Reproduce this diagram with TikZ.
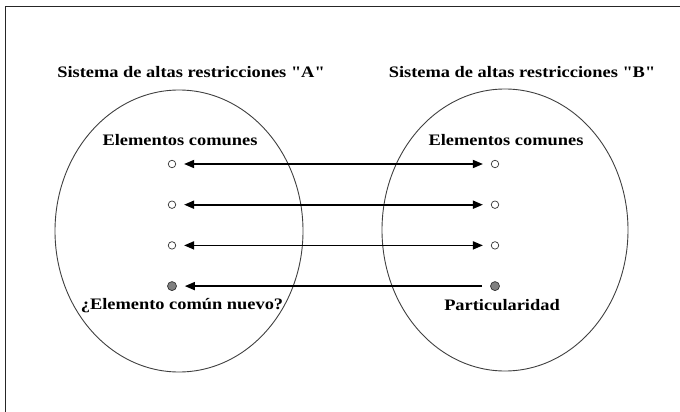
\documentclass[tikz,border=0pt]{standalone}
\usepackage{fontspec}
\setmainfont{Liberation Serif}[FakeStretch=1.15, Ligatures=TeXOff]
\usetikzlibrary{arrows.meta,positioning,shapes.geometric}

\begin{document}
\begin{tikzpicture}[x=1pt, y=-1pt, node distance = 40.7pt, on
grid, >={Triangle[length=10pt,width=8pt]},
sistema/.style={draw=black!75, line width=0.9pt, ellipse, minimum width=248pt, minimum height=282pt},
dot/.style={circle, draw=black!80, line width=0.7pt, fill=white, inner sep=0pt, minimum size=7.5pt},
newdot/.style={dot, fill=black!50, minimum size=9pt},
txt/.style={font=\bfseries\fontsize{16}{18}\selectfont, inner sep=0pt},
link/.style={line width=1.7pt, shorten >=8pt, shorten <=8pt}]
\useasboundingbox (0,0) rectangle (680,412);
\draw [line width=1pt, black!85] (5,412) -- (5,7) -- (680,7);
\node [sistema] (s_A) at (179,231) {};
\node [sistema, minimum width=246pt] (s_B) at (505,230) {};
\node [txt] (t_A) at (191,72) {Sistema de altas restricciones "A"};
\node [txt] (t_B) at (522,72) {Sistema de altas restricciones "B"};
\node [txt] (e_A) at (180,140) {Elementos comunes};
\node [txt] (e_B) at (506,140) {Elementos comunes};
\node [dot] (a_1) at (172,164) {};
\node [dot] (a_2) [below = of a_1] {};
\node [dot] (a_3) [below = of a_2] {};
\node [newdot] (a_4) [below = of a_3] {};
\node [dot] (b_1) [right = 323pt of a_1] {};
\node [dot] (b_2) [below = of b_1] {};
\node [dot] (b_3) [below = of b_2] {};
\node [newdot] (b_4) [below = of b_3] {};
\node [txt] (n_A) at (182,306) {¿Elemento común nuevo?};
\node [txt] (p_B) at (502,305) {Particularidad};
\path [link]
(a_1) edge [<->] (b_1)
(a_2) edge [<->] (b_2)
(a_3) edge [<->] (b_3)
(b_4) edge [->] (a_4);
\end{tikzpicture}
\end{document}
